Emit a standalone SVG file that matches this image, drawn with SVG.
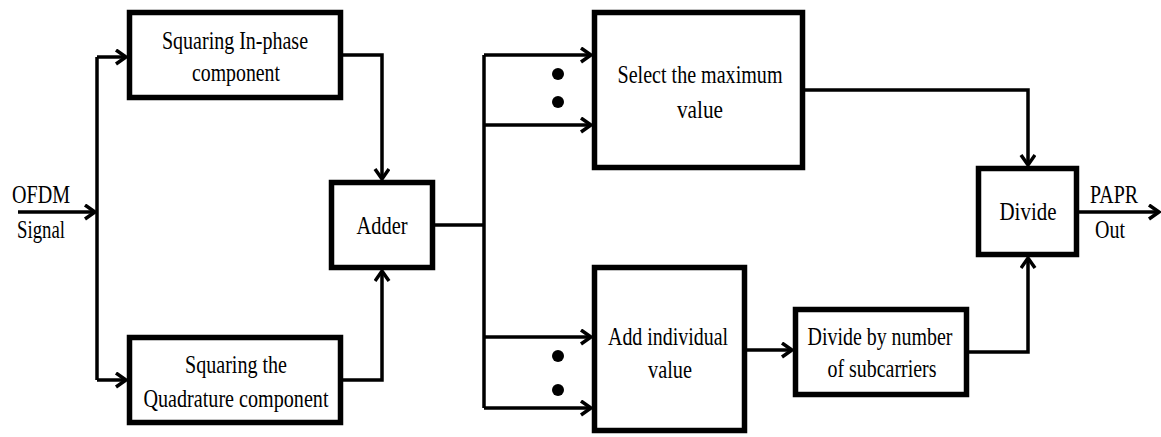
<svg xmlns="http://www.w3.org/2000/svg" width="1161" height="437" viewBox="0 0 1161 437">
<style>
.box{fill:#fff;stroke:#000;stroke-width:5.5}
.t{font-family:"Liberation Serif","Times New Roman",serif;font-size:25px;fill:#000;text-anchor:middle}
.tl{font-family:"Liberation Serif","Times New Roman",serif;font-size:25px;fill:#000}
.c{fill:none;stroke:#000;stroke-width:3.5}
.a{marker-end:url(#arr)}
</style>
<defs>
<marker id="arr" markerUnits="userSpaceOnUse" markerWidth="16" markerHeight="18" refX="12" refY="8" orient="auto">
<path d="M2,1 L12,8 L2,15" fill="none" stroke="#000" stroke-width="3.5"/>
</marker>
</defs>
<g id="connectors">
<path class="c a" d="M18,212 H95"/>
<path class="c" d="M97,57 V380"/>
<path class="c a" d="M97,57 H126"/>
<path class="c a" d="M97,380 H126"/>
<path class="c a" d="M343,55 H382 V179"/>
<path class="c a" d="M343,380 H382 V271"/>
<path class="c" d="M435,225 H484"/>
<path class="c" d="M484,55 V408"/>
<path class="c a" d="M484,55 H591"/>
<path class="c a" d="M484,125 H591"/>
<path class="c a" d="M484,337 H591"/>
<path class="c a" d="M484,408 H591"/>
<path class="c a" d="M747,350 H792"/>
<path class="c a" d="M805,90 H1028 V165"/>
<path class="c a" d="M969,352 H1028 V258"/>
<path class="c a" d="M1079,212 H1159"/>
<circle cx="558" cy="74" r="6"/>
<circle cx="558" cy="102" r="6"/>
<circle cx="558" cy="356" r="6"/>
<circle cx="558" cy="390" r="6"/>
</g>
<g id="input-label">
<text class="tl" x="12" y="203" textLength="58" lengthAdjust="spacingAndGlyphs">OFDM</text>
<text class="tl" x="17" y="238" textLength="48" lengthAdjust="spacingAndGlyphs">Signal</text>
</g>
<g id="squaring-inphase">
<rect class="box" x="129.5" y="12.5" width="211" height="85"/>
<text class="t" x="235" y="49" textLength="146" lengthAdjust="spacingAndGlyphs">Squaring In-phase</text>
<text class="t" x="236" y="81" textLength="88" lengthAdjust="spacingAndGlyphs">component</text>
</g>
<g id="squaring-quadrature">
<rect class="box" x="129.5" y="337.5" width="211" height="85"/>
<text class="t" x="236" y="373" textLength="102" lengthAdjust="spacingAndGlyphs">Squaring the</text>
<text class="t" x="236" y="407" textLength="185" lengthAdjust="spacingAndGlyphs">Quadrature component</text>
</g>
<g id="adder">
<rect class="box" x="331.5" y="182.5" width="101" height="85"/>
<text class="t" x="382" y="234" textLength="51" lengthAdjust="spacingAndGlyphs">Adder</text>
</g>
<g id="select-max">
<rect class="box" x="594.5" y="12.5" width="208" height="155"/>
<text class="t" x="700" y="83" textLength="165" lengthAdjust="spacingAndGlyphs">Select the maximum</text>
<text class="t" x="700" y="118" textLength="46" lengthAdjust="spacingAndGlyphs">value</text>
</g>
<g id="add-individual">
<rect class="box" x="594.5" y="267.5" width="150" height="163"/>
<text class="t" x="668" y="345" textLength="120" lengthAdjust="spacingAndGlyphs">Add individual</text>
<text class="t" x="670" y="378" textLength="44" lengthAdjust="spacingAndGlyphs">value</text>
</g>
<g id="divide-subcarriers">
<rect class="box" x="795.5" y="309.5" width="171" height="85"/>
<text class="t" x="880" y="345" textLength="145" lengthAdjust="spacingAndGlyphs">Divide by number</text>
<text class="t" x="882" y="377" textLength="109" lengthAdjust="spacingAndGlyphs">of subcarriers</text>
</g>
<g id="divide">
<rect class="box" x="978.5" y="168.5" width="98" height="86"/>
<text class="t" x="1028" y="220" textLength="57" lengthAdjust="spacingAndGlyphs">Divide</text>
</g>
<g id="output-label">
<text class="tl" x="1090" y="203" textLength="48" lengthAdjust="spacingAndGlyphs">PAPR</text>
<text class="tl" x="1095" y="238" textLength="30" lengthAdjust="spacingAndGlyphs">Out</text>
</g>
</svg>
